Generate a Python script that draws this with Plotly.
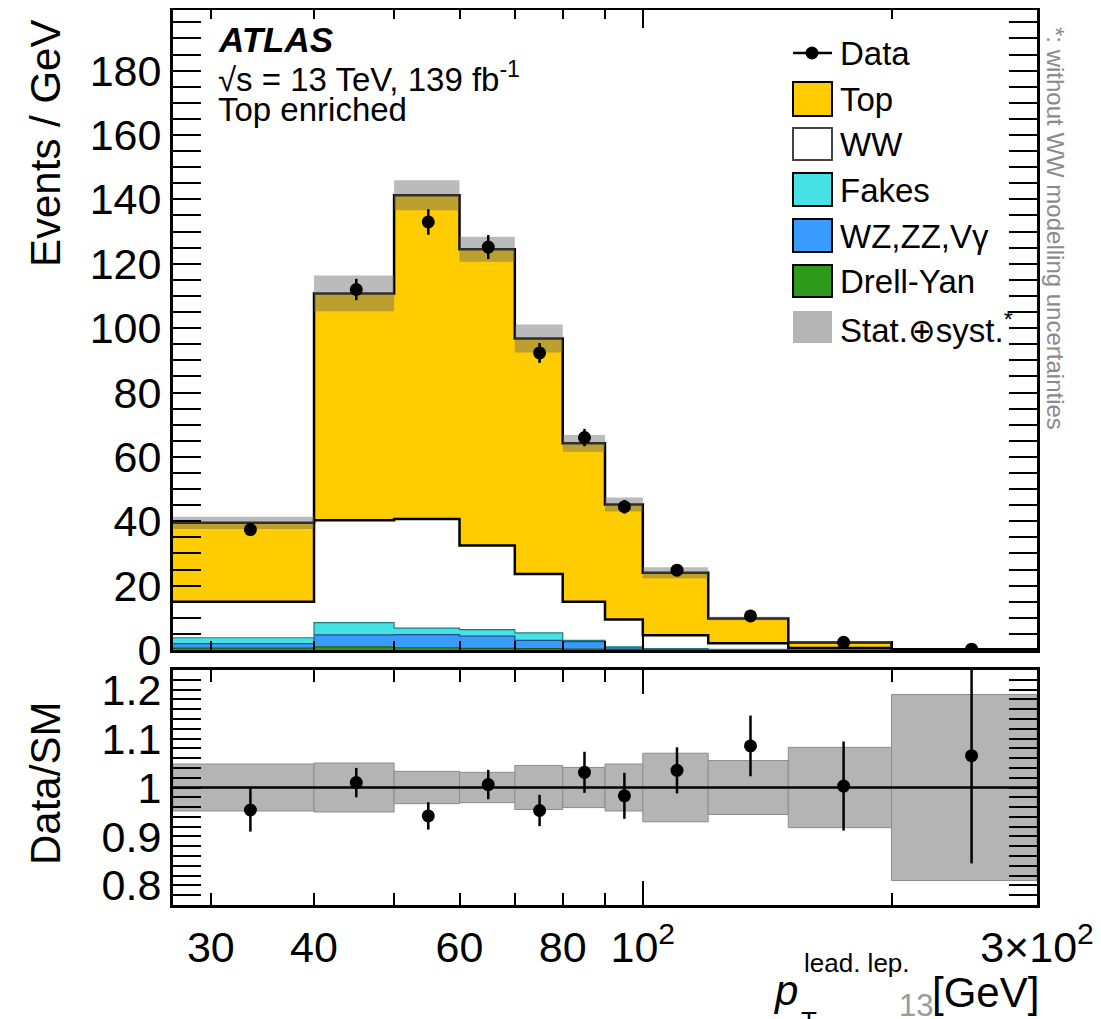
import numpy as np
import plotly.graph_objects as go

W, H = 1101, 1019
OFF = 8  # page body margin in the browser

# ---------------- data ----------------
edges = [27, 40, 50, 60, 70, 80, 90, 100, 120, 150, 200, 300]
drell_yan = [0.6, 1.0, 0.7, 0.5, 0.4, 0.3, 0.2, 0.1, 0.05, 0.02, 0.01]
wz_zz_vg = [1.4, 3.7, 4.1, 3.8, 2.6, 2.3, 0.5, 0.2, 0.1, 0.02, 0.01]
fakes = [1.8, 3.8, 2.0, 2.0, 2.3, 0.4, 0.3, 0.1, 0.05, 0.01, 0.01]
ww = [11.2, 31.8, 33.9, 26.2, 18.3, 12.0, 8.5, 4.2, 1.9, 0.55, 0.07]
top = [24.5, 70.5, 100.6, 92.0, 73.2, 49.2, 35.7, 19.4, 7.7, 1.7, 0.17]
data = [37.4, 112.0, 133.0, 125.2, 92.3, 66.0, 44.5, 24.8, 10.6, 2.4, 0.25]
ratio = [0.954, 1.010, 0.942, 1.006, 0.953, 1.031, 0.983, 1.035, 1.085, 1.003, 1.065]
ratio_err = [0.044, 0.030, 0.028, 0.030, 0.032, 0.042, 0.047, 0.047, 0.062, 0.091, 0.22]
band_rel = [0.048, 0.050, 0.033, 0.031, 0.045, 0.041, 0.048, 0.070, 0.055, 0.082, 0.19]

x_tickvals = [30, 40, 60, 80, 100, 300]
x_ticktext = ['30', '40', '60', '80', '10<sup>2</sup>', '3×10<sup>2</sup>']
x_minorvals = [50, 70, 90, 200]
y_tickvals = [0, 20, 40, 60, 80, 100, 120, 140, 160, 180]
r_tickvals = [0.8, 0.9, 1.0, 1.1, 1.2]
r_ticktext = ['0.8', '0.9', '1', '1.1', '1.2']

layers = [
    ('Drell-Yan', drell_yan, '#2e9a1c', '#1b5a10', 1.2),
    ('WZ,ZZ,Vγ', wz_zz_vg, '#3a9bff', '#1d4f8c', 1.2),
    ('Fakes', fakes, '#45e1e4', '#1f7b80', 1.2),
    ('WW', ww, '#ffffff', '#000000', 2.5),
    ('Top', top, '#ffcc00', '#000000', 2.5),
]

FONT = 'Liberation Sans, Arial, Helvetica, sans-serif'
TICK_SIZE = 43
TXT = 33

def px(x):
    return min(max((x - OFF) / W, 0.0), 1.0)

def py(y):
    return min(max(1 - (y - OFF) / H, 0.0), 1.0)

fig = go.Figure()

edges_a = np.array(edges, dtype=float)
centers = 0.5 * (edges_a[:-1] + edges_a[1:])
n = len(edges) - 1

# ---------------- stacked histogram ----------------
cum = np.zeros(n)
for i, (name, vals, fc, lc, lw) in enumerate(layers):
    cum = cum + np.array(vals)
    yy = list(cum) + [cum[-1]]
    fig.add_trace(go.Scatter(
        x=edges, y=yy, mode='lines',
        line=dict(shape='hv', color=lc, width=lw),
        fill='tozeroy' if i == 0 else 'tonexty', fillcolor=fc,
        xaxis='x', yaxis='y', showlegend=False, hoverinfo='skip'))
total = cum.copy()

# ---------------- uncertainty band (main) ----------------
for i in range(n):
    lo, hi = edges[i], edges[i + 1]
    t = total[i]
    e = band_rel[i] * t
    fig.add_trace(go.Scatter(
        x=[lo, hi, hi, lo, lo], y=[t - e, t - e, t + e, t + e, t - e],
        mode='lines', fill='toself', fillcolor='rgba(105,105,105,0.45)',
        line=dict(width=0), xaxis='x', yaxis='y', showlegend=False, hoverinfo='skip'))

# ---------------- data (main) ----------------
fig.add_trace(go.Scatter(
    x=centers, y=data, mode='markers',
    marker=dict(color='black', size=13),
    error_y=dict(type='data', array=np.array(ratio_err) * total, color='black', thickness=2.5, width=0),
    xaxis='x', yaxis='y', showlegend=False, hoverinfo='skip'))

# ---------------- ratio band ----------------
for i in range(n):
    lo, hi = edges[i], edges[i + 1]
    e = band_rel[i]
    fig.add_trace(go.Scatter(
        x=[lo, hi, hi, lo, lo], y=[1 - e, 1 - e, 1 + e, 1 + e, 1 - e],
        mode='lines', fill='toself', fillcolor='#b4b4b4',
        line=dict(width=1, color='#8c8c8c'), xaxis='x2', yaxis='y2',
        showlegend=False, hoverinfo='skip'))

fig.add_shape(type='line', xref='x2 domain', yref='y2', x0=0, x1=1, y0=1, y1=1,
              line=dict(color='black', width=2.5))

fig.add_trace(go.Scatter(
    x=centers, y=ratio, mode='markers',
    marker=dict(color='black', size=13),
    error_y=dict(type='data', array=ratio_err, color='black', thickness=2.5, width=0),
    xaxis='x2', yaxis='y2', showlegend=False, hoverinfo='skip'))

# ---------------- axes ----------------
xdom = [px(173), px(1037)]
main_dom = [py(650), py(9.5)]
ratio_dom = [py(905), py(670)]
xr = [np.log10(edges[0]), np.log10(edges[-1])]

axis_common = dict(showline=True, linecolor='black', linewidth=3, mirror='allticks',
                   ticks='inside', tickcolor='black', showgrid=False, zeroline=False,
                   automargin=False,
                   tickfont=dict(family=FONT, size=TICK_SIZE, color='black'))

fig.update_layout(
    width=W, height=H, margin=dict(l=0, r=0, t=0, b=0, autoexpand=False),
    paper_bgcolor='white', plot_bgcolor='white',
    font=dict(family=FONT, color='black'),
    xaxis=dict(domain=xdom, anchor='y', type='log', range=xr,
               tickmode='array', tickvals=x_tickvals, ticktext=x_ticktext,
               showticklabels=False, ticklen=9, tickwidth=2,
               minor=dict(tickmode='array', tickvals=x_minorvals, ticklen=9, tickwidth=2,
                          tickcolor='black', ticks='inside'),
               **axis_common),
    yaxis=dict(domain=main_dom, anchor='x', range=[0, 199.0],
               tickmode='array', tickvals=y_tickvals, ticklen=28, tickwidth=2,
               ticklabelstandoff=0,
               minor=dict(tickmode='linear', tick0=0, dtick=5, ticklen=14, tickwidth=2,
                          tickcolor='black', ticks='inside'),
               **axis_common),
    xaxis2=dict(domain=xdom, anchor='y2', type='log', range=xr,
                tickmode='array', tickvals=x_tickvals, ticktext=x_ticktext,
                ticklen=12, tickwidth=2, ticklabelstandoff=2,
                minor=dict(tickmode='array', tickvals=x_minorvals, ticklen=12, tickwidth=2,
                           tickcolor='black', ticks='inside'),
                **axis_common),
    yaxis2=dict(domain=ratio_dom, anchor='x2', range=[0.76, 1.24],
                tickmode='array', tickvals=r_tickvals, ticktext=r_ticktext,
                ticklen=28, tickwidth=2, ticklabelstandoff=0,
                minor=dict(tickmode='linear', tick0=0, dtick=0.02, ticklen=14, tickwidth=2,
                           tickcolor='black', ticks='inside'),
                **axis_common),
    xaxis3=dict(overlaying='x', anchor='y', type='log', range=xr, tickmode='array',
                tickvals=[100], ticks='inside', ticklen=18, tickwidth=2, tickcolor='black',
                mirror='allticks', showline=False, showticklabels=False, automargin=False,
                showgrid=False, zeroline=False),
    xaxis4=dict(overlaying='x2', anchor='y2', type='log', range=xr, tickmode='array',
                tickvals=[100], ticks='inside', ticklen=24, tickwidth=2, tickcolor='black',
                mirror='allticks', showline=False, showticklabels=False, automargin=False,
                showgrid=False, zeroline=False),
)

# dummy traces for overlay axes so they render
fig.add_trace(go.Scatter(x=[edges[0]], y=[0], mode='markers', marker=dict(size=0.1, opacity=0),
                         xaxis='x3', yaxis='y', showlegend=False, hoverinfo='skip'))
fig.add_trace(go.Scatter(x=[edges[0]], y=[1], mode='markers', marker=dict(size=0.1, opacity=0),
                         xaxis='x4', yaxis='y2', showlegend=False, hoverinfo='skip'))

# ---------------- texts ----------------
ann = []

def text(x, y, s, size, color='black', xanchor='left', yanchor='middle', angle=0):
    ann.append(dict(x=px(x), y=py(y), xref='paper', yref='paper', text=s, showarrow=False,
                    xanchor=xanchor, yanchor=yanchor, textangle=angle,
                    font=dict(family=FONT, size=size, color=color)))

text(216, 40, '<b><i>ATLAS</i></b>', 35)
text(216, 77, '√s = 13 TeV, 139 fb<sup>-1</sup>', TXT)
text(216, 110, 'Top enriched', TXT)

# axis titles
text(46, 144, 'Events / GeV', 42, xanchor='center', angle=-90)
text(45, 783, 'Data/SM', 42, xanchor='center', angle=-90)
text(785, 990, '<i>p</i>', 42, xanchor='center')
text(857, 963, 'lead. lep.', 26, xanchor='center')
text(809, 1021, 'T', 26, xanchor='center')
text(985, 992, '[GeV]', 42, xanchor='center')
text(916, 1005, '13', 31, color='#9a9a9a', xanchor='center')

# side note
text(1056, 228, '*: without WW modelling uncertainties', 24, color='#8a8a8a',
     xanchor='center', angle=90)

# ---------------- legend ----------------
shapes = []
leg_x0, leg_x1 = 793, 832
leg_items = [
    ('Top', '#ffcc00', 'black', 82, 116),
    ('WW', '#ffffff', '#444444', 128, 160),
    ('Fakes', '#45e1e4', 'black', 173, 206),
    ('WZ,ZZ,Vγ', '#3a9bff', 'black', 219, 252),
    ('Drell-Yan', '#2e9a1c', 'black', 265, 297),
    ('Stat.⊕syst.<sup>*</sup>', '#b4b4b4', None, 311, 343),
]
# Data entry
shapes.append(dict(type='line', xref='paper', yref='paper', x0=px(leg_x0), x1=px(leg_x1),
                   y0=py(53), y1=py(53), line=dict(color='black', width=2.5)))
shapes.append(dict(type='circle', xref='paper', yref='paper', x0=px(812 - 6.5), x1=px(812 + 6.5),
                   y0=py(53 + 6.5), y1=py(53 - 6.5), fillcolor='black', line=dict(width=0)))
text(838, 53, 'Data', TXT)
for label, fc, lc, y0, y1 in leg_items:
    shapes.append(dict(type='rect', xref='paper', yref='paper', x0=px(leg_x0), x1=px(leg_x1),
                       y0=py(y1), y1=py(y0), fillcolor=fc,
                       line=dict(color=lc if lc else fc, width=2 if lc else 0)))
    text(838, (y0 + y1) / 2 + 1, label, TXT)

for s in shapes:
    fig.add_shape(**s)
fig.update_layout(annotations=ann)

fig.write_html('out.html')
